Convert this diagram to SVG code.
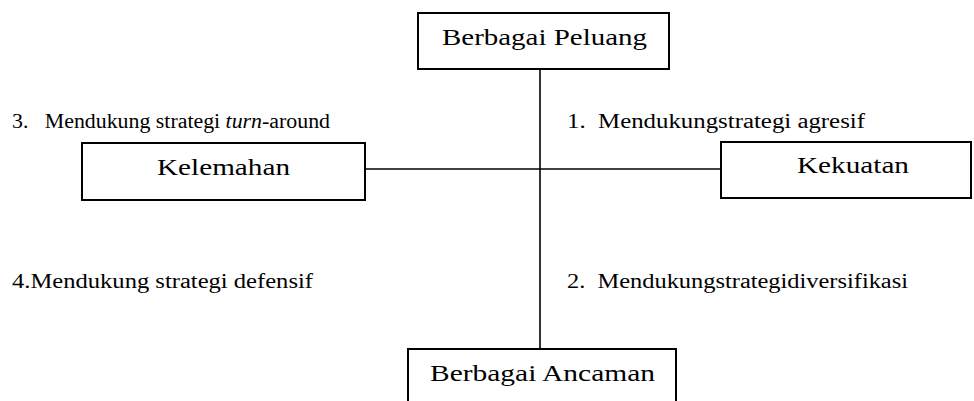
<svg xmlns="http://www.w3.org/2000/svg" width="974" height="401" viewBox="0 0 974 401">
  <style>
    .box { fill: #ffffff; stroke: #000000; stroke-width: 2; }
    .axis { stroke: #000000; stroke-width: 1.6; fill: none; }
    text { font-family: "Times New Roman", "Liberation Serif", Tinos, "Nimbus Roman", "Noto Serif", "DejaVu Serif", FreeSerif, Times, serif; fill: #000000; }
    .title { font-size: 23px; }
    .label { font-size: 20px; }
  </style>
  <rect width="974" height="401" fill="#ffffff"/>

  <!-- axes -->
  <g id="connectors">
    <line class="axis" x1="540" y1="69" x2="540" y2="349"/>
    <line class="axis" x1="365" y1="169" x2="721" y2="169"/>
  </g>

  <g id="peluang">
    <rect class="box" x="418" y="13" width="251" height="56"/>
    <text class="title" x="442" y="45" textLength="205" lengthAdjust="spacingAndGlyphs">Berbagai Peluang</text>
  </g>

  <g id="kelemahan">
    <rect class="box" x="82" y="143" width="283" height="57"/>
    <text class="title" x="157" y="175" textLength="133" lengthAdjust="spacingAndGlyphs">Kelemahan</text>
  </g>

  <g id="kekuatan">
    <rect class="box" x="721" y="142" width="250" height="56"/>
    <text class="title" x="797" y="173" textLength="112" lengthAdjust="spacingAndGlyphs">Kekuatan</text>
  </g>

  <g id="ancaman">
    <rect class="box" x="408" y="349" width="268" height="60"/>
    <text class="title" x="430" y="381" textLength="225" lengthAdjust="spacingAndGlyphs">Berbagai Ancaman</text>
  </g>

  <!-- quadrant labels -->
  <g id="quadrant-labels">
    <text class="label" x="12" y="128" textLength="318" lengthAdjust="spacingAndGlyphs" xml:space="preserve">3.   Mendukung strategi <tspan font-style="italic">turn</tspan>-around</text>
    <text class="label" x="567" y="128" textLength="298" lengthAdjust="spacingAndGlyphs" xml:space="preserve">1.  Mendukungstrategi agresif</text>
    <text class="label" x="12" y="288" textLength="301" lengthAdjust="spacingAndGlyphs">4.Mendukung strategi defensif</text>
    <text class="label" x="567" y="288" textLength="341" lengthAdjust="spacingAndGlyphs" xml:space="preserve">2.  Mendukungstrategidiversifikasi</text>
  </g>
</svg>
